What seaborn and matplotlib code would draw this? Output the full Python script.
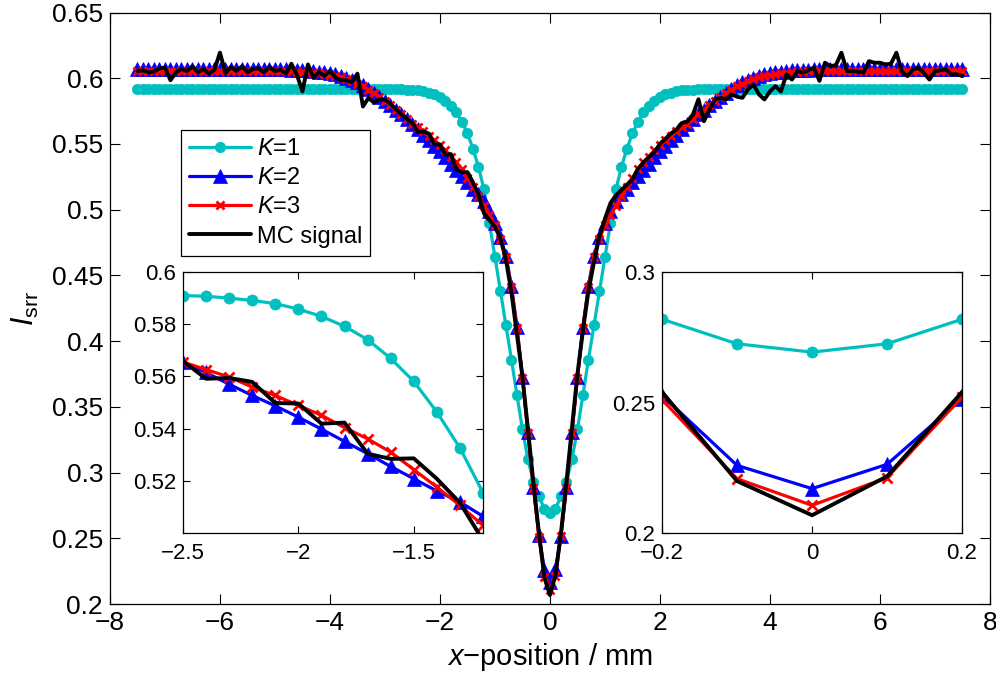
import numpy as np
import matplotlib
matplotlib.use("Agg")
import matplotlib.pyplot as plt
from matplotlib.ticker import FuncFormatter
import seaborn as sns

# x grid of the computed profiles (0.1 mm steps)
x_pos = np.round(np.linspace(-7.5, 7.5, 151), 1)

# K=1 model
k1 = [
    0.592, 0.592, 0.592, 0.592, 0.592, 0.592, 0.592, 0.592, 0.592, 0.592,
    0.592, 0.592, 0.592, 0.592, 0.592, 0.592, 0.592, 0.592, 0.592, 0.592,
    0.592, 0.592, 0.592, 0.592, 0.592, 0.592, 0.592, 0.592, 0.592, 0.592,
    0.592, 0.592, 0.592, 0.592, 0.592, 0.592, 0.592, 0.592, 0.592, 0.592,
    0.592, 0.592, 0.592, 0.592, 0.592, 0.592, 0.5918, 0.5917, 0.5915, 0.5913,
    0.5910, 0.5907, 0.5900, 0.5891, 0.5879, 0.5858, 0.5830, 0.5792, 0.5741, 0.5669,
    0.5581, 0.5464, 0.5326, 0.5155, 0.4900, 0.4640, 0.4380, 0.4120, 0.3860, 0.3590,
    0.3330, 0.3100, 0.2930, 0.2819, 0.2725, 0.2693, 0.2725, 0.2819, 0.2930, 0.3100,
    0.3330, 0.3590, 0.3860, 0.4120, 0.4380, 0.4640, 0.4900, 0.5155, 0.5326, 0.5464,
    0.5581, 0.5669, 0.5741, 0.5792, 0.5830, 0.5858, 0.5879, 0.5891, 0.5900, 0.5907,
    0.5910, 0.5913, 0.5915, 0.5917, 0.5918, 0.592, 0.592, 0.592, 0.592, 0.592,
    0.592, 0.592, 0.592, 0.592, 0.592, 0.592, 0.592, 0.592, 0.592, 0.592,
    0.592, 0.592, 0.592, 0.592, 0.592, 0.592, 0.592, 0.592, 0.592, 0.592,
    0.592, 0.592, 0.592, 0.592, 0.592, 0.592, 0.592, 0.592, 0.592, 0.592,
    0.592, 0.592, 0.592, 0.592, 0.592, 0.592, 0.592, 0.592, 0.592, 0.592,
    0.592,
]

# K=2 model
k2 = [
    0.607, 0.607, 0.607, 0.607, 0.607, 0.607, 0.607, 0.607, 0.607, 0.607,
    0.607, 0.607, 0.607, 0.607, 0.607, 0.607, 0.607, 0.607, 0.607, 0.607,
    0.607, 0.607, 0.607, 0.607, 0.607, 0.607, 0.6069, 0.6068, 0.6066, 0.6064,
    0.6062, 0.6059, 0.6055, 0.6051, 0.6046, 0.6040, 0.6030, 0.6020, 0.6005, 0.5990,
    0.5970, 0.5945, 0.5920, 0.5890, 0.5860, 0.5830, 0.5795, 0.5760, 0.5725, 0.5690,
    0.5655, 0.5615, 0.5570, 0.5527, 0.5487, 0.5444, 0.5398, 0.5351, 0.5304, 0.5255,
    0.5208, 0.5161, 0.5119, 0.5064, 0.4990, 0.4900, 0.4790, 0.4650, 0.4420, 0.4110,
    0.3730, 0.3310, 0.2890, 0.2527, 0.2259, 0.2170, 0.2263, 0.2515, 0.2890, 0.3310,
    0.3730, 0.4110, 0.4420, 0.4650, 0.4790, 0.4900, 0.4990, 0.5064, 0.5119, 0.5161,
    0.5208, 0.5255, 0.5304, 0.5351, 0.5398, 0.5444, 0.5487, 0.5527, 0.5570, 0.5615,
    0.5655, 0.5690, 0.5725, 0.5760, 0.5795, 0.5830, 0.5860, 0.5890, 0.5920, 0.5945,
    0.5970, 0.5990, 0.6005, 0.6020, 0.6030, 0.6040, 0.6046, 0.6051, 0.6055, 0.6059,
    0.6062, 0.6064, 0.6066, 0.6068, 0.6069, 0.607, 0.607, 0.607, 0.607, 0.607,
    0.607, 0.607, 0.607, 0.607, 0.607, 0.607, 0.607, 0.607, 0.607, 0.607,
    0.607, 0.607, 0.607, 0.607, 0.607, 0.607, 0.607, 0.607, 0.607, 0.607,
    0.607,
]

# K=3 model
k3 = [
    0.6055, 0.6055, 0.6055, 0.6055, 0.6055, 0.6055, 0.6055, 0.6055, 0.6055, 0.6055,
    0.6055, 0.6055, 0.6055, 0.6055, 0.6055, 0.6055, 0.6055, 0.6055, 0.6055, 0.6055,
    0.6055, 0.6055, 0.6055, 0.6055, 0.6055, 0.6055, 0.6054, 0.6053, 0.6052, 0.6050,
    0.6048, 0.6045, 0.6042, 0.6038, 0.6034, 0.6028, 0.6020, 0.6010, 0.5995, 0.5980,
    0.5960, 0.5938, 0.5913, 0.5886, 0.5857, 0.5826, 0.5794, 0.5760, 0.5725, 0.5690,
    0.5655, 0.5626, 0.5598, 0.5559, 0.5527, 0.5489, 0.5451, 0.5404, 0.5361, 0.5310,
    0.5243, 0.5176, 0.5106, 0.5029, 0.4960, 0.4880, 0.4780, 0.4640, 0.4410, 0.4100,
    0.3720, 0.3300, 0.2880, 0.2511, 0.2208, 0.2106, 0.2212, 0.2521, 0.2880, 0.3300,
    0.3720, 0.4100, 0.4410, 0.4640, 0.4780, 0.4880, 0.4960, 0.5029, 0.5106, 0.5176,
    0.5243, 0.5310, 0.5361, 0.5404, 0.5451, 0.5489, 0.5527, 0.5559, 0.5598, 0.5626,
    0.5655, 0.5690, 0.5725, 0.5760, 0.5794, 0.5826, 0.5857, 0.5886, 0.5913, 0.5938,
    0.5960, 0.5980, 0.5995, 0.6010, 0.6020, 0.6028, 0.6034, 0.6038, 0.6042, 0.6045,
    0.6048, 0.6050, 0.6052, 0.6053, 0.6054, 0.6055, 0.6055, 0.6055, 0.6055, 0.6055,
    0.6055, 0.6055, 0.6055, 0.6055, 0.6055, 0.6055, 0.6055, 0.6055, 0.6055, 0.6055,
    0.6055, 0.6055, 0.6055, 0.6055, 0.6055, 0.6055, 0.6055, 0.6055, 0.6055, 0.6055,
    0.6055,
]

# Monte Carlo signal
mc = [
    0.6055, 0.6060, 0.6045, 0.6050, 0.6075, 0.6080, 0.5985, 0.6045, 0.6070, 0.6055,
    0.6090, 0.6045, 0.6070, 0.6035, 0.6065, 0.6195, 0.6040, 0.6085, 0.6055, 0.6090,
    0.6045, 0.6070, 0.6075, 0.6045, 0.6085, 0.6055, 0.6065, 0.6035, 0.6110, 0.6025,
    0.5900, 0.6105, 0.6005, 0.6045, 0.6020, 0.6055, 0.6005, 0.5985, 0.5985, 0.5970,
    0.6035, 0.5785, 0.5850, 0.5815, 0.5840, 0.5835, 0.5805, 0.5765, 0.5725, 0.5690,
    0.5659, 0.5591, 0.5594, 0.5579, 0.5498, 0.5496, 0.5419, 0.5423, 0.5304, 0.5284,
    0.5286, 0.5208, 0.5116, 0.4972, 0.4920, 0.4870, 0.4780, 0.4620, 0.4370, 0.4050,
    0.3730, 0.3330, 0.2920, 0.2540, 0.2199, 0.2068, 0.2217, 0.2540, 0.2930, 0.3340,
    0.3750, 0.4080, 0.4380, 0.4600, 0.4800, 0.4930, 0.5050, 0.5110, 0.5150, 0.5190,
    0.5230, 0.5310, 0.5360, 0.5400, 0.5440, 0.5500, 0.5540, 0.5580, 0.5610, 0.5660,
    0.5670, 0.5724, 0.5840, 0.5673, 0.5762, 0.5839, 0.5851, 0.5839, 0.5877, 0.5860,
    0.5851, 0.5915, 0.5953, 0.5877, 0.5839, 0.5900, 0.5940, 0.5900, 0.6029, 0.5990,
    0.6054, 0.6042, 0.6060, 0.6080, 0.5980, 0.6118, 0.6092, 0.6100, 0.6194, 0.6054,
    0.6054, 0.6050, 0.6042, 0.6130, 0.6118, 0.6118, 0.6105, 0.6110, 0.6194, 0.6050,
    0.6016, 0.6067, 0.6080, 0.6040, 0.5990, 0.6054, 0.6060, 0.6067, 0.6029, 0.6030,
    0.6016,
]

labels = ["$K$=1", "$K$=2", "$K$=3", "MC signal"]

main_xticks = [-8, -6, -4, -2, 0, 2, 4, 6, 8]
main_yticks = [0.2, 0.25, 0.3, 0.35, 0.4, 0.45, 0.5, 0.55, 0.6, 0.65]
left_xticks = [-2.5, -2, -1.5]
left_yticks = [0.52, 0.54, 0.56, 0.58, 0.6]
right_xticks = [-0.2, 0, 0.2]
right_yticks = [0.2, 0.25, 0.3]

sns.set_style("ticks")
plt.rcParams['font.family'] = ['Liberation Sans', 'DejaVu Sans']
plt.rcParams['mathtext.fontset'] = 'custom'
plt.rcParams['mathtext.rm'] = 'Liberation Sans'
plt.rcParams['mathtext.it'] = 'Liberation Sans:italic'
plt.rcParams['axes.unicode_minus'] = True
for key in ['text.color', 'axes.labelcolor', 'xtick.color', 'ytick.color',
            'axes.edgecolor']:
    plt.rcParams[key] = 'black'

CYAN = '#00BFBF'


def fmt(v, p):
    s = f"{v:g}"
    return s.replace("-", "\u2212")


def draw_series(ax, with_labels, ms_c, ms_t, ms_x):
    lab = labels if with_labels else [None] * 4
    sns.lineplot(x=x_pos, y=k1, ax=ax, color=CYAN, linewidth=2.3,
                 marker='o', markersize=ms_c, markeredgecolor=CYAN,
                 markeredgewidth=0.5, label=lab[0], legend=False)
    sns.lineplot(x=x_pos, y=k2, ax=ax, color='#0000FF', linewidth=2.3,
                 marker='^', markersize=ms_t, markeredgecolor='#0000FF',
                 markeredgewidth=0.5, label=lab[1], legend=False)
    sns.lineplot(x=x_pos, y=k3, ax=ax, color='#FF0000', linewidth=2.3,
                 marker='x', markersize=ms_x, markeredgecolor='#FF0000',
                 markeredgewidth=2.0, label=lab[2], legend=False)
    sns.lineplot(x=x_pos, y=mc, ax=ax, color='black', linewidth=2.8,
                 label=lab[3], legend=False)


def style_axes(ax, xticks, yticks, size, length, xpad=5):
    ax.set_xticks(xticks)
    ax.set_yticks(yticks)
    ax.xaxis.set_major_formatter(FuncFormatter(fmt))
    ax.yaxis.set_major_formatter(FuncFormatter(fmt))
    ax.tick_params(direction='in', top=True, right=True, length=length,
                   width=0.8, labelsize=size, pad=5, colors='black')
    ax.tick_params(axis='x', pad=xpad)
    for sp in ax.spines.values():
        sp.set_visible(True)
        sp.set_linewidth(0.9)
        sp.set_color('black')
    ax.grid(False)
    ax.set_xlabel('')
    ax.set_ylabel('')


fig = plt.figure(figsize=(9.96, 6.77), dpi=100)
ax = fig.add_axes([0.1104, 0.1078, 0.8835, 0.8737])
draw_series(ax, True, 7.5, 9.5, 5.5)
ax.set_xlim(-8, 8)
ax.set_ylim(0.2, 0.65)
style_axes(ax, main_xticks, main_yticks, 19, 7)
ax.set_xlabel("$x$\u2212position / mm", fontsize=21, labelpad=4)
ax.set_ylabel("$I_{\\mathrm{srr}}$", fontsize=22, labelpad=8)

leg = ax.legend(loc='upper left', bbox_to_anchor=(0.0807, 0.8014),
                borderaxespad=0, fontsize=17, frameon=True, fancybox=False,
                framealpha=1, edgecolor='black', handlelength=2.6,
                handletextpad=0.25, labelspacing=0.3, borderpad=0.35)
leg.get_frame().set_linewidth(0.9)

# left inset
ax_l = fig.add_axes([0.1837, 0.2127, 0.3012, 0.3855])
ax_l.set_facecolor('white')
draw_series(ax_l, False, 8, 9.5, 7)
ax_l.set_xlim(-2.5, -1.2)
ax_l.set_ylim(0.5, 0.6)
style_axes(ax_l, left_xticks, left_yticks, 16, 5, xpad=7)

# right inset
ax_r = fig.add_axes([0.6647, 0.2127, 0.3012, 0.3855])
ax_r.set_facecolor('white')
draw_series(ax_r, False, 8, 9.5, 7)
ax_r.set_xlim(-0.2, 0.2)
ax_r.set_ylim(0.2, 0.3)
style_axes(ax_r, right_xticks, right_yticks, 16, 5, xpad=7)

fig.savefig('out.png', dpi=100)
